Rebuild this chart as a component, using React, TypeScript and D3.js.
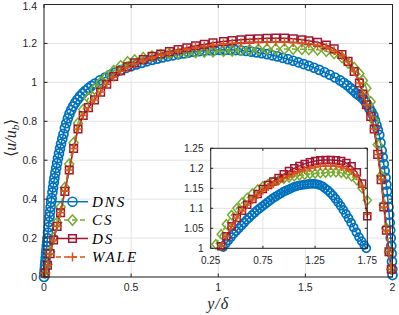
import { useEffect, useRef } from "react";
import * as d3 from "d3";

// main plot: DNS (dense sampling) and the three LES models on a common grid
const dnsX = [
  0, 0.002, 0.004, 0.006, 0.008, 0.01, 0.012, 0.014, 0.016, 0.018, 0.02, 0.023, 0.026, 0.029, 0.032, 0.035, 0.038, 0.041, 0.044, 0.048,
  0.052, 0.056, 0.06, 0.065, 0.07, 0.075, 0.08, 0.086, 0.092, 0.098, 0.105, 0.112, 0.12, 0.128, 0.137, 0.146, 0.156, 0.167, 0.179, 0.192,
  0.206, 0.221, 0.237, 0.254, 0.272, 0.291,
  0.32, 0.35, 0.38, 0.41, 0.44, 0.47, 0.5, 0.53, 0.56, 0.59, 0.62, 0.65, 0.68, 0.71, 0.74, 0.77, 0.8, 0.83, 0.86, 0.89,
  0.92, 0.95, 0.98, 1.01, 1.04, 1.07, 1.1, 1.13, 1.16, 1.19, 1.22, 1.25, 1.28, 1.31, 1.34, 1.37, 1.4, 1.43, 1.46, 1.49,
  1.52, 1.55, 1.58, 1.61, 1.64, 1.67, 1.7,
  1.72, 1.74, 1.76, 1.775, 1.79, 1.805, 1.82, 1.833, 1.845, 1.857, 1.868, 1.879, 1.89, 1.899, 1.908, 1.916, 1.924, 1.931, 1.938, 1.944,
  1.95, 1.955, 1.96, 1.965, 1.969, 1.973, 1.977, 1.981, 1.984, 1.987, 1.99, 1.993, 1.995, 1.997, 1.999, 2.0,
];
const dnsU = [
  0, 0.02, 0.04, 0.06, 0.08, 0.1, 0.12, 0.14, 0.16, 0.18, 0.2, 0.228, 0.256, 0.283, 0.31, 0.335, 0.36, 0.385, 0.405, 0.435,
  0.46, 0.485, 0.508, 0.535, 0.56, 0.585, 0.61, 0.635, 0.66, 0.685, 0.71, 0.735, 0.765, 0.79, 0.815, 0.838, 0.858, 0.877, 0.895, 0.912,
  0.928, 0.943, 0.957, 0.97, 0.982, 0.993,
  1.01, 1.025, 1.039, 1.051, 1.063, 1.074, 1.083, 1.092, 1.1, 1.108, 1.115, 1.122, 1.128, 1.134, 1.139, 1.144, 1.149, 1.153, 1.157, 1.16,
  1.163, 1.165, 1.166, 1.167, 1.167, 1.167, 1.166, 1.164, 1.161, 1.158, 1.154, 1.15, 1.145, 1.139, 1.133, 1.126, 1.119, 1.111, 1.103, 1.094,
  1.085, 1.075, 1.064, 1.052, 1.039, 1.025, 1.01,
  0.998, 0.985, 0.97, 0.958, 0.945, 0.935, 0.925, 0.913, 0.9, 0.883, 0.865, 0.848, 0.83, 0.805, 0.78, 0.755, 0.73, 0.69, 0.65, 0.615,
  0.58, 0.545, 0.51, 0.475, 0.44, 0.4, 0.36, 0.32, 0.28, 0.24, 0.2, 0.16, 0.12, 0.08, 0.04, 0.01,
];

const lesX = [0.007, 0.02, 0.035, 0.055, 0.075, 0.095, 0.12, 0.145, 0.17, 0.195, 0.225, 0.255, 0.29, 0.325, 0.36, 0.4, 0.44, 0.48, 0.52, 0.57, 0.62, 0.67, 0.72, 0.77, 0.82, 0.87, 0.92, 0.97, 1.03, 1.08, 1.13, 1.18, 1.23, 1.28, 1.33, 1.38, 1.43, 1.48, 1.52, 1.57, 1.62, 1.665, 1.71, 1.745, 1.78, 1.81, 1.83, 1.85, 1.875, 1.895, 1.915, 1.935, 1.95, 1.965, 1.98, 1.993];
const csU = [0.02, 0.065, 0.13, 0.2, 0.28, 0.36, 0.46, 0.58, 0.69, 0.79, 0.86, 0.92, 0.965, 1.0, 1.03, 1.06, 1.085, 1.105, 1.115, 1.127, 1.135, 1.142, 1.147, 1.15, 1.152, 1.154, 1.156, 1.158, 1.16, 1.162, 1.165, 1.167, 1.169, 1.171, 1.172, 1.172, 1.171, 1.17, 1.169, 1.167, 1.16, 1.148, 1.128, 1.1, 1.075, 1.045, 1.01, 0.97, 0.9, 0.8, 0.68, 0.52, 0.37, 0.25, 0.13, 0.04];
const dsU = [0.02, 0.06, 0.12, 0.19, 0.26, 0.33, 0.44, 0.55, 0.66, 0.76, 0.83, 0.87, 0.91, 0.95, 0.99, 1.03, 1.06, 1.08, 1.1, 1.117, 1.134, 1.146, 1.158, 1.168, 1.178, 1.188, 1.195, 1.203, 1.21, 1.215, 1.219, 1.222, 1.224, 1.226, 1.227, 1.227, 1.224, 1.219, 1.214, 1.206, 1.192, 1.172, 1.143, 1.108, 1.056, 0.997, 0.94, 0.885, 0.825, 0.76, 0.63, 0.5, 0.36, 0.24, 0.13, 0.04];
const waleU = [0.02, 0.06, 0.12, 0.19, 0.26, 0.33, 0.44, 0.55, 0.66, 0.76, 0.83, 0.87, 0.91, 0.95, 0.99, 1.028, 1.057, 1.077, 1.096, 1.113, 1.128, 1.14, 1.152, 1.162, 1.171, 1.179, 1.186, 1.192, 1.198, 1.201, 1.204, 1.206, 1.207, 1.208, 1.208, 1.207, 1.205, 1.202, 1.198, 1.191, 1.18, 1.162, 1.138, 1.106, 1.056, 0.997, 0.94, 0.885, 0.825, 0.76, 0.63, 0.5, 0.36, 0.24, 0.13, 0.04];

// inset (zoom on the core region)
const insetDnsX = [
  0.37, 0.395, 0.42, 0.445, 0.47, 0.495, 0.52, 0.545, 0.57, 0.595, 0.62, 0.645, 0.67, 0.695, 0.72, 0.745, 0.77, 0.795, 0.82, 0.845,
  0.87, 0.895, 0.92, 0.945, 0.97, 0.995, 1.02, 1.045, 1.07, 1.095, 1.12, 1.145, 1.17, 1.195, 1.22, 1.245, 1.27, 1.295, 1.32, 1.345,
  1.37, 1.395, 1.42, 1.445, 1.47, 1.495, 1.52, 1.545, 1.57, 1.595, 1.62, 1.645, 1.67, 1.695, 1.72, 1.74,
];
const insetDnsU = [
  1.003, 1.012, 1.02, 1.028, 1.036, 1.043, 1.05, 1.057, 1.064, 1.071, 1.077, 1.083, 1.089, 1.095, 1.1, 1.105, 1.11, 1.115, 1.12, 1.125,
  1.129, 1.133, 1.137, 1.141, 1.144, 1.147, 1.15, 1.153, 1.155, 1.157, 1.158, 1.159, 1.16, 1.161, 1.161, 1.161, 1.16, 1.158, 1.155, 1.15,
  1.145, 1.139, 1.132, 1.124, 1.115, 1.106, 1.096, 1.086, 1.075, 1.064, 1.052, 1.04, 1.028, 1.018, 1.008, 1.0,
];
const insetX = [0.3, 0.35, 0.4, 0.45, 0.5, 0.55, 0.6, 0.65, 0.7, 0.75, 0.8, 0.85, 0.9, 0.95, 1.0, 1.05, 1.1, 1.15, 1.2, 1.25, 1.3, 1.35, 1.4, 1.45, 1.5, 1.55, 1.6, 1.65, 1.7, 1.75];
const insetCsU = [1.01, 1.035, 1.06, 1.083, 1.1, 1.114, 1.126, 1.137, 1.147, 1.155, 1.161, 1.166, 1.17, 1.174, 1.177, 1.18, 1.182, 1.184, 1.186, 1.187, 1.188, 1.189, 1.19, 1.19, 1.189, 1.186, 1.18, 1.17, 1.15, 1.12];
const insetDsU = [null, 1.005, 1.03, 1.055, 1.076, 1.094, 1.109, 1.123, 1.136, 1.148, 1.158, 1.167, 1.176, 1.185, 1.193, 1.2, 1.206, 1.211, 1.215, 1.218, 1.22, 1.221, 1.221, 1.22, 1.218, 1.213, 1.205, 1.19, 1.162, 1.08];
const insetWaleU = [null, 1.005, 1.03, 1.055, 1.076, 1.093, 1.108, 1.121, 1.133, 1.144, 1.153, 1.161, 1.168, 1.175, 1.181, 1.187, 1.192, 1.196, 1.2, 1.203, 1.205, 1.206, 1.206, 1.205, 1.203, 1.199, 1.193, 1.18, 1.155, 1.085];

const xTicks = [0, 0.5, 1, 1.5, 2];
const yTicks = [0, 0.2, 0.4, 0.6, 0.8, 1, 1.2, 1.4];
const insetXTicks = [0.25, 0.75, 1.25, 1.75];
const insetYTicks = [1, 1.05, 1.1, 1.15, 1.2, 1.25];
const legendLabels = ["DNS", "CS", "DS", "WALE"];

const COLORS = ["#0072BD", "#77AC30", "#A2142F", "#D95319"];
const DASH = [null, "5,3", null, "5,3"];
const AXIS = "#262626";
const GRID = "#e3e3e3";
const FONT = "'Liberation Sans', Arial, sans-serif";
const SERIF = "'Liberation Serif', 'Times New Roman', serif";

function markerPath(kind: number, r: number) {
  if (kind === 0) return `M${-r},0A${r},${r} 0 1,0 ${r},0A${r},${r} 0 1,0 ${-r},0Z`;
  if (kind === 1) return `M0,${-r * 1.15}L${r},0L0,${r * 1.15}L${-r},0Z`;
  if (kind === 2) return `M${-r},${-r}H${r}V${r}H${-r}Z`;
  return `M${-r},0H${r}M0,${-r}V${r}`;
}

export default function App() {
  const svgRef = useRef<SVGSVGElement>(null);

  useEffect(() => {
    document.body.style.margin = "0";
    if (!svgRef.current) return;
    const svg = d3.select(svgRef.current);
    svg.selectAll("*").remove();

    const x = d3.scaleLinear().domain([0, 2]).range([44, 392.5]);
    const y = d3.scaleLinear().domain([0, 1.4]).range([277, 4.5]);

    // grid
    const g = svg.append("g");
    g.selectAll(".gx").data(xTicks).enter().append("line")
      .attr("x1", d => x(d)).attr("x2", d => x(d))
      .attr("y1", y(0)).attr("y2", y(1.4))
      .attr("stroke", GRID).attr("stroke-width", 1);
    g.selectAll(".gy").data(yTicks).enter().append("line")
      .attr("y1", d => y(d)).attr("y2", d => y(d))
      .attr("x1", x(0)).attr("x2", x(2))
      .attr("stroke", GRID).attr("stroke-width", 1);

    const drawSeries = (
      parent: d3.Selection<SVGGElement, unknown, null, undefined>,
      xs: number[], ys: (number | null)[], idx: number,
      sx: d3.ScaleLinear<number, number>, sy: d3.ScaleLinear<number, number>, r: number
    ) => {
      const pts = xs.map((v, i) => [v, ys[i]] as [number, number | null])
        .filter(p => p[1] !== null) as [number, number][];
      const line = d3.line<[number, number]>().x(d => sx(d[0])).y(d => sy(d[1]));
      parent.append("path")
        .datum(pts)
        .attr("fill", "none")
        .attr("stroke", COLORS[idx])
        .attr("stroke-width", 1.5)
        .attr("stroke-dasharray", DASH[idx])
        .attr("d", line);
      parent.selectAll(null).data(pts).enter().append("path")
        .attr("transform", d => `translate(${sx(d[0])},${sy(d[1])})`)
        .attr("d", markerPath(idx, r))
        .attr("fill", "none")
        .attr("stroke", COLORS[idx])
        .attr("stroke-width", idx === 0 ? 1.7 : 1.5);
    };

    const plot = svg.append("g");
    drawSeries(plot, dnsX, dnsU, 0, x, y, 4.5);
    drawSeries(plot, lesX, csU, 1, x, y, 4.5);
    drawSeries(plot, lesX, dsU, 2, x, y, 3.8);
    drawSeries(plot, lesX, waleU, 3, x, y, 4.5);

    // axes box + ticks
    const ax = svg.append("g");
    ax.append("rect")
      .attr("x", x(0)).attr("y", y(1.4))
      .attr("width", x(2) - x(0)).attr("height", y(0) - y(1.4))
      .attr("fill", "none").attr("stroke", AXIS).attr("stroke-width", 1);
    xTicks.forEach(t => {
      ax.append("line").attr("x1", x(t)).attr("x2", x(t)).attr("y1", y(0)).attr("y2", y(0) - 3.5).attr("stroke", AXIS);
      ax.append("line").attr("x1", x(t)).attr("x2", x(t)).attr("y1", y(1.4)).attr("y2", y(1.4) + 3.5).attr("stroke", AXIS);
      ax.append("text").attr("x", x(t)).attr("y", 291)
        .attr("text-anchor", "middle").attr("font-family", FONT).attr("font-size", 10.5).attr("fill", AXIS)
        .text(String(t));
    });
    yTicks.forEach(t => {
      ax.append("line").attr("x1", x(0)).attr("x2", x(0) + 3.5).attr("y1", y(t)).attr("y2", y(t)).attr("stroke", AXIS);
      ax.append("line").attr("x1", x(2)).attr("x2", x(2) - 3.5).attr("y1", y(t)).attr("y2", y(t)).attr("stroke", AXIS);
      ax.append("text").attr("x", 37).attr("y", Math.max(y(t), 6)).attr("dy", "0.35em")
        .attr("text-anchor", "end").attr("font-family", FONT).attr("font-size", 10.5).attr("fill", AXIS)
        .text(String(t));
    });

    // axis labels
    svg.append("text")
      .attr("x", (x(0) + x(2)) / 2).attr("y", 309)
      .attr("text-anchor", "middle").attr("font-family", SERIF).attr("font-style", "italic")
      .attr("font-size", 16).attr("letter-spacing", 1).attr("fill", AXIS)
      .text("y/δ");
    const yl = svg.append("text")
      .attr("transform", `translate(16,${(y(0) + y(1.4)) / 2 - 3}) rotate(-90)`)
      .attr("text-anchor", "middle").attr("font-family", SERIF)
      .attr("font-size", 16).attr("fill", AXIS);
    yl.append("tspan").text("⟨");
    yl.append("tspan").attr("font-style", "italic").text("u/u");
    yl.append("tspan").attr("font-style", "italic").attr("font-size", 11).attr("dy", 3).text("b");
    yl.append("tspan").attr("dy", -3).text("⟩");

    // legend
    const leg = svg.append("g");
    legendLabels.forEach((lab, i) => {
      const cy = 201.7 + i * 18.4;
      leg.append("line")
        .attr("x1", 56).attr("x2", 88).attr("y1", cy).attr("y2", cy)
        .attr("stroke", COLORS[i]).attr("stroke-width", 1.5)
        .attr("stroke-dasharray", DASH[i]);
      leg.append("path")
        .attr("transform", `translate(72.5,${cy})`)
        .attr("d", markerPath(i, i === 2 ? 3.8 : 4.5))
        .attr("fill", "none").attr("stroke", COLORS[i]).attr("stroke-width", 1.5);
      leg.append("text")
        .attr("x", 92).attr("y", cy).attr("dy", "0.35em")
        .attr("font-family", SERIF).attr("font-style", "italic")
        .attr("font-size", 15).attr("letter-spacing", 2).attr("fill", "#000")
        .text(lab);
    });

    // inset
    const ix = d3.scaleLinear().domain([0.25, 1.75]).range([210.7, 367.3]);
    const iy = d3.scaleLinear().domain([1, 1.25]).range([248.3, 148.3]);
    const ins = svg.append("g");
    ins.append("rect")
      .attr("x", ix(0.25)).attr("y", iy(1.25))
      .attr("width", ix(1.75) - ix(0.25)).attr("height", iy(1) - iy(1.25))
      .attr("fill", "#fff");
    insetXTicks.forEach(t => {
      ins.append("line").attr("x1", ix(t)).attr("x2", ix(t)).attr("y1", iy(1)).attr("y2", iy(1.25)).attr("stroke", GRID);
    });
    insetYTicks.forEach(t => {
      ins.append("line").attr("y1", iy(t)).attr("y2", iy(t)).attr("x1", ix(0.25)).attr("x2", ix(1.75)).attr("stroke", GRID);
    });
    drawSeries(ins, insetDnsX, insetDnsU, 0, ix, iy, 4);
    drawSeries(ins, insetX, insetCsU, 1, ix, iy, 4);
    drawSeries(ins, insetX, insetDsU, 2, ix, iy, 3.5);
    drawSeries(ins, insetX, insetWaleU, 3, ix, iy, 4);
    ins.append("rect")
      .attr("x", ix(0.25)).attr("y", iy(1.25))
      .attr("width", ix(1.75) - ix(0.25)).attr("height", iy(1) - iy(1.25))
      .attr("fill", "none").attr("stroke", AXIS).attr("stroke-width", 1);
    insetXTicks.forEach(t => {
      ins.append("line").attr("x1", ix(t)).attr("x2", ix(t)).attr("y1", iy(1)).attr("y2", iy(1) - 2.5).attr("stroke", AXIS);
      ins.append("line").attr("x1", ix(t)).attr("x2", ix(t)).attr("y1", iy(1.25)).attr("y2", iy(1.25) + 2.5).attr("stroke", AXIS);
      ins.append("text").attr("x", ix(t)).attr("y", 264)
        .attr("text-anchor", "middle").attr("font-family", FONT).attr("font-size", 10).attr("fill", AXIS)
        .text(t.toFixed(2));
    });
    insetYTicks.forEach(t => {
      ins.append("line").attr("x1", ix(0.25)).attr("x2", ix(0.25) + 2.5).attr("y1", iy(t)).attr("y2", iy(t)).attr("stroke", AXIS);
      ins.append("line").attr("x1", ix(1.75)).attr("x2", ix(1.75) - 2.5).attr("y1", iy(t)).attr("y2", iy(t)).attr("stroke", AXIS);
      ins.append("text").attr("x", 203.5).attr("y", iy(t)).attr("dy", "0.35em")
        .attr("text-anchor", "end").attr("font-family", FONT).attr("font-size", 10).attr("fill", AXIS)
        .text(String(t));
    });
  }, []);

  return <svg ref={svgRef} width={399} height={315} style={{ display: "block", background: "#fff" }} />;
}
